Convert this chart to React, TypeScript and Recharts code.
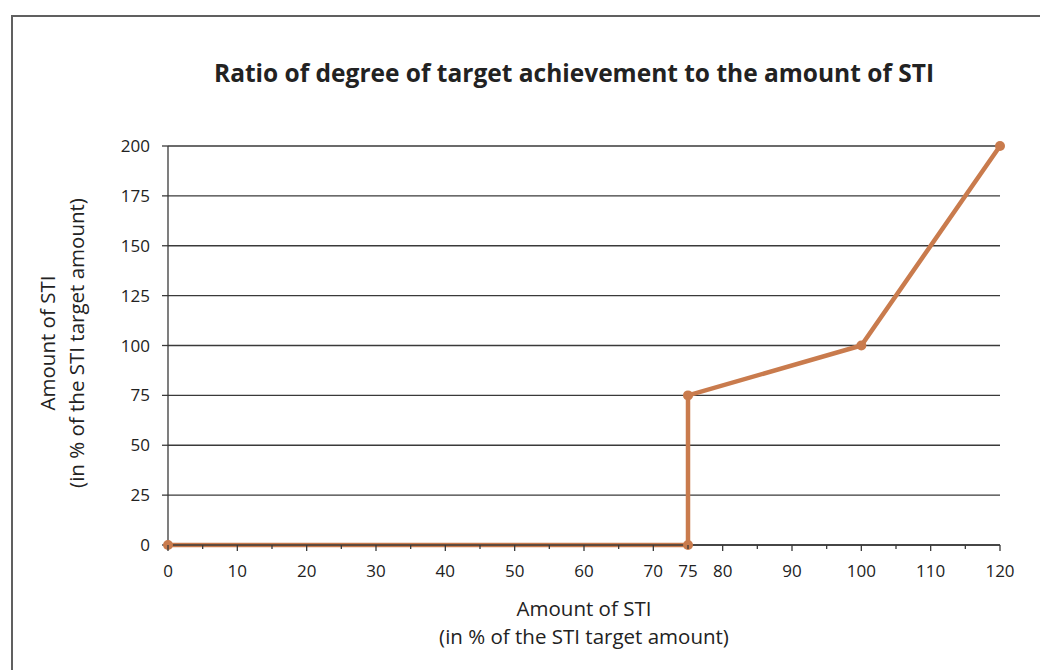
import React from "react";
import { LineChart, Line, XAxis, YAxis, CartesianGrid } from "recharts";

const achievement = [0, 75, 75, 100, 120];
const stiAmount = [0, 0, 75, 100, 200];
const xTicks = [0, 5, 10, 15, 20, 25, 30, 35, 40, 45, 50, 55, 60, 65, 70, 75, 80, 85, 90, 95, 100, 105, 110, 115, 120];
const xLabels = [0, 10, 20, 30, 40, 50, 60, 70, 75, 80, 90, 100, 110, 120];
const yTicks = [0, 25, 50, 75, 100, 125, 150, 175, 200];

const data = achievement.map((x, i) => ({ x, y: stiAmount[i] }));

const FONT = "'Open Sans', sans-serif";
const LINE_COLOR = "#C97B4D";
const AXIS_COLOR = "#3a3a3a";
const TEXT_COLOR = "#222222";

const XTick = (props: any) => {
  const { x, y, payload } = props;
  const v = payload.value as number;
  const major = v % 10 === 0;
  const showLabel = xLabels.includes(v);
  return (
    <g>
      <line x1={x} x2={x} y1={y} y2={y + (major ? 6 : 4)} stroke={AXIS_COLOR} strokeWidth={1.3} />
      {showLabel && (
        <text x={x} y={y + 32} textAnchor="middle" fontFamily={FONT} fontSize={17} fill={TEXT_COLOR}>
          {v}
        </text>
      )}
    </g>
  );
};

export default function App() {
  return (
    <div style={{ position: "absolute", left: 0, top: 0, width: 1040, height: 670, overflow: "hidden", background: "#fff" }}>
      <div
        style={{
          position: "absolute",
          left: 11,
          top: 15,
          width: 1040,
          height: 670,
          borderTop: "2px solid #606060",
          borderLeft: "2px solid #606060",
        }}
      />
      <div
        style={{
          position: "absolute",
          left: 74,
          width: 1000,
          top: 56,
          textAlign: "center",
          fontFamily: FONT,
          fontWeight: 700,
          fontSize: 24.5,
          lineHeight: "34px",
          color: TEXT_COLOR,
        }}
      >
        Ratio of degree of target achievement to the amount of STI
      </div>
      <div
        style={{
          position: "absolute",
          left: 184,
          width: 800,
          top: 594,
          textAlign: "center",
          fontFamily: FONT,
          fontSize: 20.5,
          lineHeight: "28px",
          color: TEXT_COLOR,
        }}
      >
        Amount of STI
        <br />
        (in % of the STI target amount)
      </div>
      <div
        style={{
          position: "absolute",
          left: 62 - 200,
          top: 343 - 29,
          width: 400,
          height: 58,
          transform: "rotate(-90deg)",
          transformOrigin: "200px 29px",
          textAlign: "center",
          fontFamily: FONT,
          fontSize: 20.5,
          lineHeight: "29px",
          color: TEXT_COLOR,
        }}
      >
        Amount of STI
        <br />
        (in % of the STI target amount)
      </div>
      <div style={{ position: "absolute", left: 0, top: 0 }}>
        <LineChart width={1040} height={670} data={data} margin={{ top: 146, right: 40, bottom: 95, left: 108 }}>
          <CartesianGrid horizontal={true} vertical={false} stroke={AXIS_COLOR} strokeWidth={1.3} />
          <XAxis
            dataKey="x"
            type="number"
            domain={[0, 120]}
            ticks={xTicks}
            interval={0}
            height={30}
            tickSize={0}
            tickMargin={0}
            tickLine={false}
            axisLine={{ stroke: AXIS_COLOR, strokeWidth: 1.3 }}
            tick={<XTick />}
          />
          <YAxis
            type="number"
            domain={[0, 200]}
            ticks={yTicks}
            interval={0}
            width={60}
            tickSize={6}
            tickMargin={12}
            tickLine={{ stroke: AXIS_COLOR, strokeWidth: 1.3 }}
            axisLine={{ stroke: AXIS_COLOR, strokeWidth: 1.3 }}
            tick={{ fontFamily: FONT, fontSize: 17, fill: TEXT_COLOR }}
          />
          <Line
            type="linear"
            dataKey="y"
            stroke={LINE_COLOR}
            strokeWidth={4.5}
            dot={{ r: 5, fill: LINE_COLOR, stroke: LINE_COLOR, strokeWidth: 0 }}
            isAnimationActive={false}
          />
        </LineChart>
      </div>
    </div>
  );
}
